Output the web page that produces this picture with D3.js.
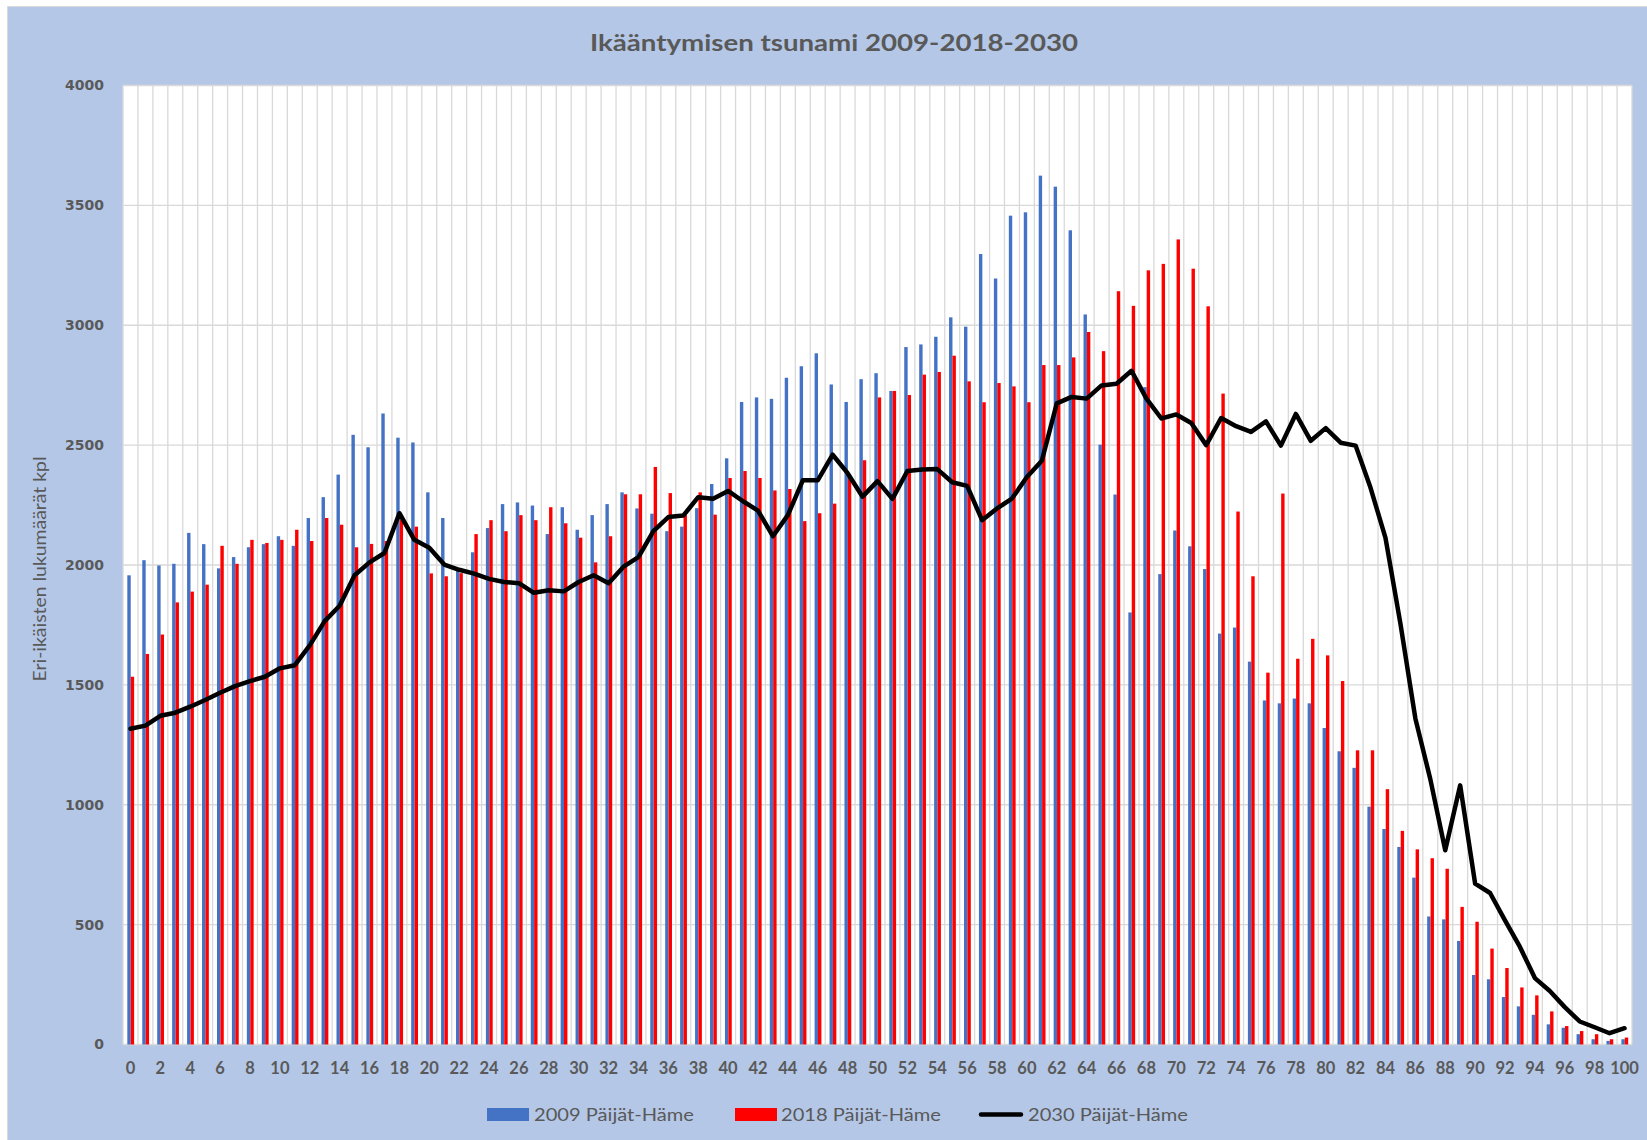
<!DOCTYPE html>
<html><head><meta charset="utf-8">
<script src="https://cdn.jsdelivr.net/npm/d3@7"></script>
<style>html,body{margin:0;padding:0;background:#fff;}svg{display:block;}</style>
</head><body>
<svg id="chart" width="1647" height="1140"></svg>
<script>
const ages = d3.range(0, 101);
const v2009 = [1957,2020,1998,2005,2134,2087,1986,2033,2074,2087,2120,2080,2196,2283,2377,2543,2491,2632,2531,2511,
2303,2196,1975,2053,2154,2254,2261,2248,2129,2241,2147,2208,2254,2303,2236,2214,2141,2160,2237,2338,
2445,2680,2699,2693,2781,2829,2883,2753,2680,2775,2800,2726,2909,2920,2952,3033,2994,3297,3195,3457,
3471,3624,3578,3396,3045,2502,2294,1802,2742,1962,2144,2078,1983,1714,1739,1597,1435,1423,1443,1423,
1320,1223,1154,992,899,824,696,534,522,432,290,272,198,159,124,84,70,43,22,15,22];
const v2018 = [1534,1629,1710,1844,1889,1918,2080,2005,2105,2092,2105,2147,2100,2196,2168,2074,2088,2100,2190,2160,
1965,1953,1966,2129,2187,2141,2208,2187,2241,2174,2114,2011,2120,2295,2295,2409,2300,2208,2303,2210,
2363,2392,2363,2311,2317,2183,2216,2256,2375,2437,2699,2726,2709,2794,2805,2873,2766,2679,2759,2745,
2679,2834,2834,2866,2972,2892,3142,3081,3229,3256,3358,3236,3079,2715,2223,1953,1551,2298,1609,1692,
1623,1516,1227,1227,1065,891,814,777,733,574,512,400,319,238,205,138,77,56,43,22,29];
const v2030 = [1317,1330,1371,1384,1409,1437,1467,1495,1516,1534,1569,1582,1665,1766,1830,1957,2011,2050,2216,2105,
2072,2002,1980,1964,1942,1929,1924,1884,1895,1890,1929,1957,1924,1993,2033,2141,2200,2206,2283,2276,
2309,2266,2227,2120,2208,2353,2353,2460,2383,2285,2350,2276,2392,2398,2400,2345,2330,2187,2236,2277,
2367,2435,2674,2701,2694,2749,2756,2810,2694,2611,2628,2592,2500,2613,2579,2555,2599,2498,2630,2518,
2571,2510,2498,2322,2113,1755,1360,1107,810,1081,671,632,518,407,277,223,156,96,72,47,68];
const seriesNames = ["2009 Päijät-Häme", "2018 Päijät-Häme", "2030 Päijät-Häme"];
const yTicks = [0,500,1000,1500,2000,2500,3000,3500,4000];
const xTickLabels = ages.filter(a => a % 2 === 0);
const titleText = "Ikääntymisen tsunami 2009-2018-2030";
const yTitle = "Eri-ikäisten lukumäärät kpl";

const svg = d3.select("#chart");
const W = 1647, H = 1140;
const plot = {left: 123, right: 1632, top: 85.5, bottom: 1044.5};
const textColor = "#595959";

svg.append("rect").attr("x", 7.5).attr("y", 6.5).attr("width", W - 7).attr("height", H - 6)
  .attr("fill", "#B4C7E7").attr("stroke", "#d9d9d9").attr("stroke-width", 1);
svg.append("rect").attr("x", plot.left).attr("y", plot.top)
  .attr("width", plot.right - plot.left).attr("height", plot.bottom - plot.top).attr("fill", "#fff");

const x = d3.scaleBand().domain(ages).range([plot.left, plot.right]).padding(0);
const y = d3.scaleLinear().domain([0, 4000]).range([plot.bottom, plot.top]);
const bw = x.bandwidth();
const sub = d3.scaleBand().domain(["b", "r"]).range([bw * 0.29, bw * 0.745]).padding(0);

// gridlines
const grid = svg.append("g").attr("stroke", "#d9d9d9").attr("stroke-width", 1.3);
grid.selectAll("line.h").data(yTicks).join("line")
  .attr("x1", plot.left).attr("x2", plot.right)
  .attr("y1", d => y(d)).attr("y2", d => y(d));
grid.selectAll("line.v").data(d3.range(0, 102)).join("line")
  .attr("x1", d => plot.left + d * bw).attr("x2", d => plot.left + d * bw)
  .attr("y1", plot.top).attr("y2", plot.bottom);

// bars
const bars = svg.append("g");
bars.selectAll("rect.b09").data(ages).join("rect")
  .attr("x", d => x(d) + sub("b")).attr("width", sub.bandwidth())
  .attr("y", d => y(v2009[d])).attr("height", d => y(0) - y(v2009[d]))
  .attr("fill", "#4472C4");
bars.selectAll("rect.b18").data(ages).join("rect")
  .attr("x", d => x(d) + sub("r")).attr("width", sub.bandwidth())
  .attr("y", d => y(v2018[d])).attr("height", d => y(0) - y(v2018[d]))
  .attr("fill", "#FF0000");

// line
const line = d3.line().x(d => x(d) + bw / 2).y(d => y(v2030[d]));
svg.append("path").datum(ages).attr("d", line)
  .attr("fill", "none").attr("stroke", "#000").attr("stroke-width", 4.5)
  .attr("stroke-linejoin", "round").attr("stroke-linecap", "round");

// y axis labels
const yAxis = d3.axisLeft(y).tickValues(yTicks).tickFormat(d3.format("d")).tickSize(0).tickPadding(0);
const ya = svg.append("g").attr("transform", `translate(${plot.left - 19},0)`).call(yAxis);
ya.select(".domain").remove();
ya.selectAll("text").attr("fill", textColor)
  .style("font-family", "'DejaVu Sans', sans-serif").style("font-weight", "bold").style("font-size", "14px");

// x axis labels
const xAxis = d3.axisBottom(x).tickValues(xTickLabels).tickSize(0).tickPadding(0);
const xa = svg.append("g").attr("transform", `translate(0,${plot.bottom + 18})`).call(xAxis);
xa.select(".domain").remove();
xa.selectAll("text").attr("fill", textColor).attr("dy", "0.71em")
  .style("font-family", "Lato, sans-serif").style("font-weight", "bold").style("font-size", "16.5px");

// title
svg.append("text").attr("x", 834).attr("y", 51).attr("text-anchor", "middle")
  .attr("fill", textColor).style("font-family", "Lato, sans-serif").style("font-weight", "bold")
  .style("font-size", "23px").attr("textLength", 488).attr("lengthAdjust", "spacingAndGlyphs")
  .text(titleText);

// y title
svg.append("text").attr("transform", "translate(46,569) rotate(-90)").attr("text-anchor", "middle")
  .attr("fill", textColor).style("font-family", "Lato, sans-serif").style("font-size", "17px")
  .attr("textLength", 225).attr("lengthAdjust", "spacingAndGlyphs")
  .text(yTitle);

// legend
const leg = svg.append("g");
const legItems = [
  {name: seriesNames[0], type: "rect", color: "#4472C4", sx: 487, tx: 534},
  {name: seriesNames[1], type: "rect", color: "#FF0000", sx: 735, tx: 781},
  {name: seriesNames[2], type: "line", color: "#000", sx: 979, tx: 1028}
];
legItems.forEach(it => {
  if (it.type === "rect") {
    leg.append("rect").attr("x", it.sx).attr("y", 1108).attr("width", 42).attr("height", 13).attr("fill", it.color);
  } else {
    leg.append("line").attr("x1", it.sx + 2).attr("x2", it.sx + 42).attr("y1", 1114.5).attr("y2", 1114.5)
      .attr("stroke", it.color).attr("stroke-width", 4.5).attr("stroke-linecap", "round");
  }
  leg.append("text").attr("x", it.tx).attr("y", 1121).attr("fill", textColor)
    .style("font-family", "Lato, sans-serif").style("font-size", "17px")
    .attr("textLength", 160).attr("lengthAdjust", "spacingAndGlyphs").text(it.name);
});
</script>
</body></html>
